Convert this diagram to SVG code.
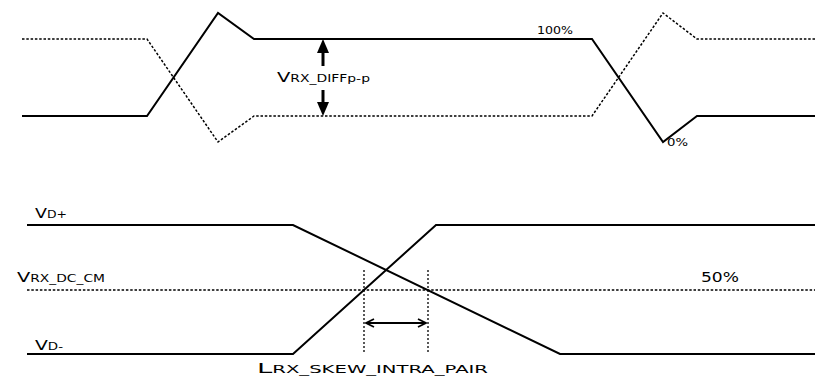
<svg xmlns="http://www.w3.org/2000/svg" width="815" height="378" viewBox="0 0 815 378">
<style>
.sig{fill:none;stroke:#000;stroke-width:2;stroke-linejoin:miter}
.dash{fill:none;stroke:#000;stroke-width:1.5;stroke-dasharray:2.5,1.8}
.dot{fill:none;stroke:#000;stroke-width:1.3;stroke-dasharray:2,2}
.t{font-family:"DejaVu Sans",sans-serif;fill:#000}
.big{font-size:14px}
.sm{font-size:10px}
</style>
<defs>
<marker id="chev" viewBox="0 0 10 10" refX="9" refY="5" markerWidth="10" markerHeight="10" markerUnits="userSpaceOnUse" orient="auto-start-reverse">
<path d="M1,1 L9,5 L1,9" fill="none" stroke="#000" stroke-width="1.8"/>
</marker>
</defs>
<rect width="815" height="378" fill="#fff"/>
<g id="top-signals">
<polyline class="sig" points="22,116 147,116 218,13 254,39 592,39 663,142 697,116 815,116"/>
<polyline class="dash" points="22,39 147,39 218,142 254,116 592,116 663,13 697,39 815,39"/>
</g>
<g id="diff-arrow">
<line x1="323" y1="52" x2="323" y2="66" stroke="#000" stroke-width="3"/>
<polygon points="323,39 317,53 329,53" fill="#000"/>
<line x1="323" y1="90" x2="323" y2="104" stroke="#000" stroke-width="3"/>
<polygon points="323,116 317,102 329,102" fill="#000"/>
<text class="t" x="277" y="82" textLength="93" lengthAdjust="spacingAndGlyphs"><tspan class="big">V</tspan><tspan class="sm">RX_DIFFp-p</tspan></text>
</g>
<g id="pct-labels">
<text class="t" x="537" y="34" font-size="11" textLength="36" lengthAdjust="spacingAndGlyphs">100%</text>
<text class="t" x="667" y="146" font-size="11" textLength="21" lengthAdjust="spacingAndGlyphs">0%</text>
<text class="t" x="701" y="282" font-size="14" textLength="38" lengthAdjust="spacingAndGlyphs">50%</text>
</g>
<g id="bottom-signals">
<polyline class="sig" points="27,225 293,225 560,354 815,354"/>
<polyline class="sig" points="27,354 293,354 436,225 815,225"/>
<line class="dash" x1="27" y1="290" x2="815" y2="290"/>
</g>
<g id="skew">
<line class="dot" x1="364" y1="270" x2="364" y2="354"/>
<line class="dot" x1="428" y1="270" x2="428" y2="354"/>
<line x1="366" y1="323" x2="426" y2="323" stroke="#000" stroke-width="2" marker-start="url(#chev)" marker-end="url(#chev)"/>
<text class="t" x="257" y="373" textLength="231" lengthAdjust="spacingAndGlyphs"><tspan class="big">L</tspan><tspan class="sm">RX_SKEW_INTRA_PAIR</tspan></text>
</g>
<g id="bottom-labels">
<text class="t" x="35" y="218" textLength="32" lengthAdjust="spacingAndGlyphs"><tspan class="big">V</tspan><tspan class="sm">D+</tspan></text>
<text class="t" x="17" y="282" textLength="88" lengthAdjust="spacingAndGlyphs"><tspan class="big">V</tspan><tspan class="sm">RX_DC_CM</tspan></text>
<text class="t" x="35" y="350" textLength="28" lengthAdjust="spacingAndGlyphs"><tspan class="big">V</tspan><tspan class="sm">D-</tspan></text>
</g>
</svg>
